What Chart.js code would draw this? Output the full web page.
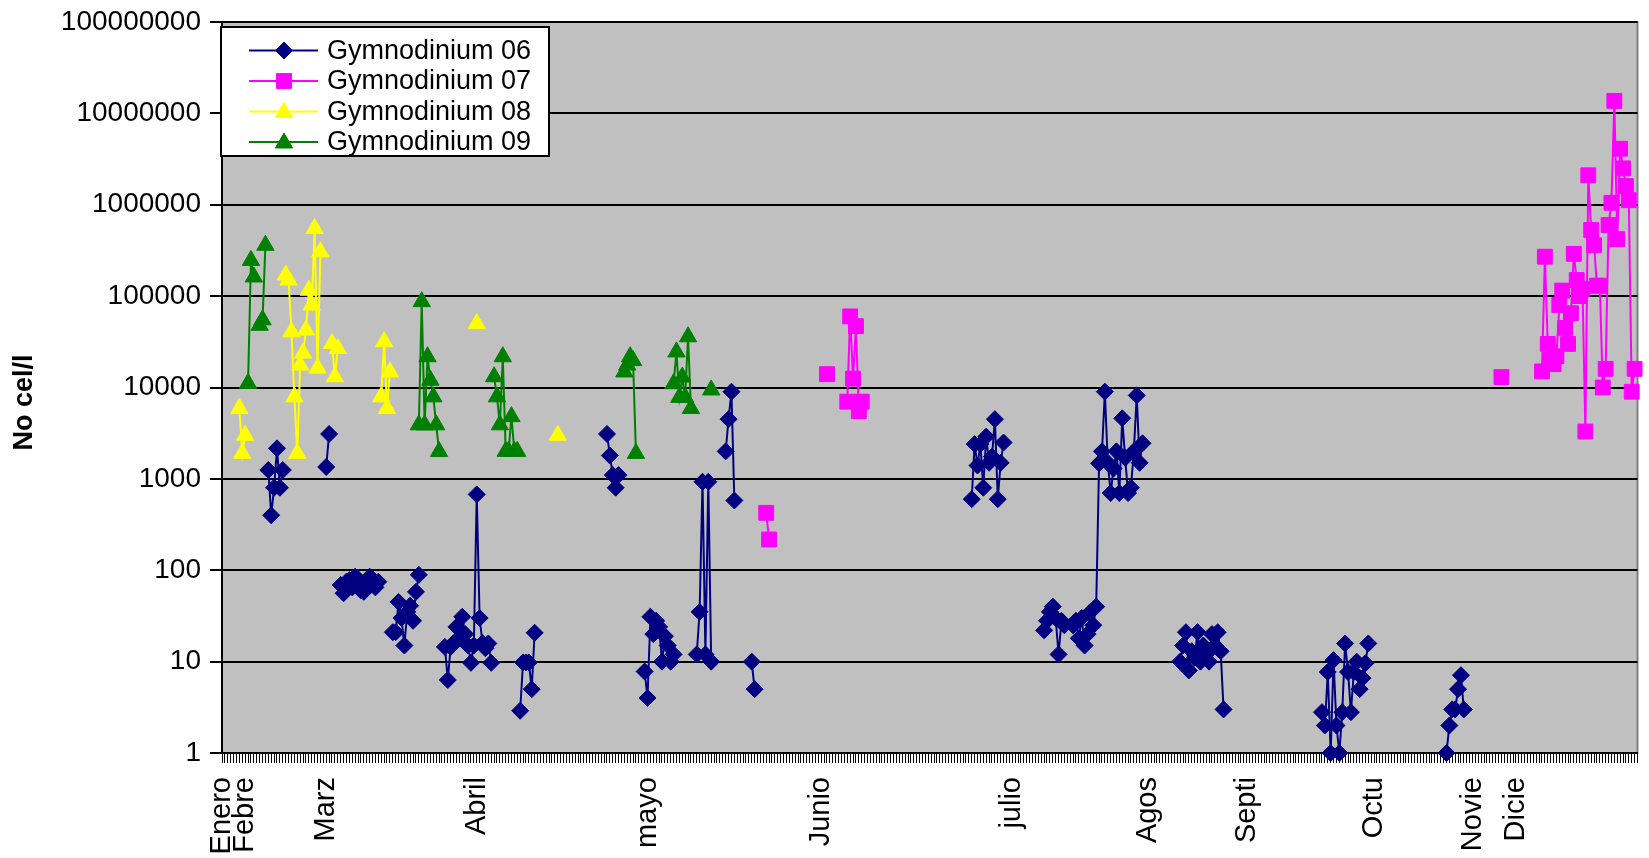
<!DOCTYPE html>
<html><head><meta charset="utf-8">
<script src="https://cdn.jsdelivr.net/npm/chart.js@4.4.1/dist/chart.umd.min.js"></script>
<style>html,body{margin:0;padding:0;background:#fff}</style>
</head><body>
<canvas id="c" width="1649" height="858"></canvas>
<script>
// number of sample rows on the category axis
const N = 490;
// month tick labels: [row index, label]
const monthLabels = [[0,'Enero'],[8,'Febre'],[36,'Marz'],[88,'Abril'],[147,'mayo'],[207,'Junio'],[273,'julio'],[320,'Agos'],[354,'Septi'],[398,'Octu'],[432,'Novie'],[447,'Dicie']];
const yTicks = [1,10,100,1000,10000,100000,1000000,10000000,100000000];
const seriesNames = ['Gymnodinium 06','Gymnodinium 07','Gymnodinium 08','Gymnodinium 09'];

// [row index, cells per litre]
const g06 = [[16,1250],[17,400],[18,800],[19,2160],[20,800],[21,1250],
 [36,1350],[37,3100],
 [41,69],[42,56],[43,75],[44,78],[45,65],[46,85],[47,80],[48,60],[49,58],[50,75],[51,85],[52,80],[53,65],[54,75],
 [59,21],[60,21],[61,45],[62,30],[63,15],[64,35],[65,41],[66,28],[67,58],[68,89],
 [77,14.5],[78,6.3],[79,14.5],[80,16],[81,24],[82,18],[83,31],[84,20],[85,15],[86,9.7],[87,15],[88,676],[89,30],[90,16],[91,14],[92,15.8],[93,9.7],
 [103,2.9],[104,9.8],[105,9.8],[106,9.8],[107,5],[108,20.7],
 [133,3100],[134,1800],[135,1100],[136,800],[137,1100],
 [146,7.8],[147,4],[148,31],[149,20],[150,28],[151,24],[152,10],[153,19],[154,15],[155,10],[156,12],
 [164,12],[165,35],[166,930],[167,12],[168,930],[169,10],
 [174,2000],[175,4500],[176,9000],[177,580],
 [183,10],[184,5],
 [259,600],[260,2400],[261,1400],[262,2400],[263,800],[264,2900],[265,1500],[266,1750],[267,4500],[268,600],[269,1500],[270,2500],
 [284,22],[285,28],[286,35],[287,40],[288,30],[289,12],[290,28],[291,25],
 [294,25],[295,28],[296,18],[297,30],[298,15],[299,20],[300,35],[301,25],[302,40],[303,1480],[304,2000],[305,9000],[306,1500],[307,700],[308,1300],[309,2000],[310,700],[311,4600],[312,1700],[313,700],[314,800],[315,2000],[316,8200],[317,1500],[318,2450],
 [331,10],[332,15],[333,21],[334,8],[335,13],[336,11],[337,21],[338,10],[339,15],[340,12],[341,10],[342,20],[343,15],[344,21],[345,13],[346,3],
 [380,2.8],[381,2],[382,7.7],[383,1],[384,10.4],[385,2],[386,1],[387,2.8],[388,15.8],[389,7.7],[390,2.8],[391,7.7],[392,10],[393,5],[394,6.6],[395,9.6],[396,15.8],
 [423,1],[424,2],[425,3],[426,3],[427,5],[428,7.1],[429,3]];
const g07 = [[188,425],[189,217],
 [209,14000],
 [216,7000],[217,60000],[218,12500],[219,47000],[220,5500],[221,7000],
 [442,13000],
 [456,15000],[457,270000],[458,30000],[459,20000],[460,18000],[461,22000],[462,80000],[463,115000],[464,45000],[465,30000],[466,65000],[467,290000],[468,150000],[469,100000],[470,120000],[471,3300],[472,2100000],[473,530000],[474,360000],[475,130000],[476,130000],[477,10000],[478,16000],[479,600000],[480,1050000],[481,13700000],[482,420000],[483,4100000],[484,2500000],[485,1600000],[486,1120000],[487,9000],[488,16000]];
const g08 = [[6,5900],[7,1900],[8,3000],
 [22,170000],[23,150000],[24,40600],[25,7900],[26,1900],[27,17600],[28,23800],[29,42500],[30,116000],[31,80000],[32,550000],[33,16300],[34,305000],
 [38,30300],[39,13100],[40,26700],
 [55,7900],[56,31700],[57,5900],[58,14800],
 [88,50000],
 [116,3000]];
const g09 = [[9,11100],[10,246000],[11,162000],[13,48000],[14,55000],[15,360000],
 [68,3900],[69,87000],[70,3900],[71,21700],[72,12000],[73,7900],[74,3900],[75,1990],
 [94,13100],[95,7900],[96,3900],[97,21700],[98,2000],[99,2000],[100,4800],[101,2000],[102,2000],
 [139,14800],[140,17600],[141,21700],[142,19700],[143,1900],
 [156,11000],[157,24500],[158,7800],[159,13000],[160,7800],[161,35900],[162,5900],
 [169,9400]];

const categories = Array.from({length:N}, () => '');
monthLabels.forEach(([i,t]) => { categories[i] = t; });
function toData(pairs){ const a = new Array(N).fill(null); pairs.forEach(([i,v]) => { a[i] = v; }); return a; }

const FONT = "'Liberation Sans', Arial, sans-serif";
const styles = [
  {color:'#000080', pointStyle:'rectRot', radius:8.5},
  {color:'#FF00FF', pointStyle:'rect', radius:10.5},
  {color:'#FFFF00', pointStyle:'triangle', radius:10},
  {color:'#008000', pointStyle:'triangle', radius:10}
];
const allSeries = [g06, g07, g08, g09];

const datasets = allSeries.map((s, k) => ({
  label: seriesNames[k],
  data: toData(s),
  borderColor: styles[k].color,
  backgroundColor: styles[k].color,
  pointBackgroundColor: styles[k].color,
  pointBorderColor: styles[k].color,
  pointStyle: styles[k].pointStyle,
  pointRadius: styles[k].radius,
  pointHoverRadius: styles[k].radius,
  pointBorderWidth: 1,
  borderWidth: 2,
  spanGaps: false,
  tension: 0,
  clip: false,
  order: 4 - k
}));

const plotBg = {
  id: 'plotBg',
  beforeDraw(chart) {
    const {ctx, chartArea: a} = chart;
    ctx.save();
    ctx.fillStyle = '#C0C0C0';
    ctx.fillRect(a.left, a.top, a.right - a.left, a.bottom - a.top);
    ctx.strokeStyle = '#808080';
    ctx.lineWidth = 2;
    ctx.strokeRect(a.left, a.top, a.right - a.left, a.bottom - a.top);
    ctx.restore();
  }
};

const boxLegend = {
  id: 'boxLegend',
  afterDraw(chart) {
    const ctx = chart.ctx;
    const bx = 221, by = 27, bw = 328, bh = 129;
    ctx.save();
    ctx.fillStyle = '#fff';
    ctx.fillRect(bx, by, bw, bh);
    ctx.beginPath(); ctx.rect(bx, by, bw, bh); ctx.clip();
    chart.data.datasets.forEach((ds, k) => {
      const cy = 50.5 + k * 30.5;
      ctx.strokeStyle = ds.borderColor;
      ctx.lineWidth = 2;
      ctx.beginPath(); ctx.moveTo(249, cy); ctx.lineTo(318, cy); ctx.stroke();
      ctx.fillStyle = ds.pointBackgroundColor;
      ctx.strokeStyle = ds.pointBorderColor;
      ctx.lineWidth = 1;
      Chart.helpers.drawPoint(ctx, {pointStyle: ds.pointStyle, rotation: 0, borderWidth: 1, radius: ds.pointRadius}, 284, cy + (ds.pointStyle === 'triangle' ? 1 : 0));
      ctx.fillStyle = '#000';
      ctx.font = '27px ' + FONT;
      ctx.textBaseline = 'middle';
      ctx.textAlign = 'left';
      ctx.fillText(ds.label, 327, cy + 1);
    });
    ctx.restore();
    ctx.save();
    ctx.strokeStyle = '#000';
    ctx.lineWidth = 2;
    ctx.strokeRect(bx, by, bw, bh);
    ctx.restore();
  }
};

new Chart(document.getElementById('c'), {
  type: 'line',
  data: { labels: categories, datasets },
  plugins: [plotBg, boxLegend],
  options: {
    responsive: false,
    animation: false,
    events: [],
    layout: { padding: { top: 22, right: 8, left: 0, bottom: 0 } },
    plugins: { legend: { display: false }, tooltip: { enabled: false } },
    scales: {
      x: {
        type: 'category',
        offset: false,
        afterFit(scale) { scale.height = 105; scale.paddingLeft = 0; scale.paddingRight = 0; },
        grid: { display: true, drawOnChartArea: false, drawTicks: true, tickLength: 10, color: '#000', lineWidth: 1 },
        border: { display: true, color: '#000', width: 2 },
        ticks: {
          autoSkip: false, minRotation: 90, maxRotation: 90, padding: 14,
          color: '#000', font: { family: FONT, size: 29 },
          callback(v) { return categories[v]; }
        }
      },
      y: {
        type: 'logarithmic',
        min: 1, max: 100000000,
        afterFit(scale) { scale.width = 222; scale.paddingTop = 0; scale.paddingBottom = 0; },
        afterBuildTicks(scale) { scale.ticks = yTicks.map(v => ({ value: v, major: true })); },
        grid: { color: '#000', lineWidth: 2, tickLength: 12, drawTicks: true },
        border: { display: true, color: '#000', width: 2 },
        ticks: {
          color: '#000', padding: 9,
          font: { family: FONT, size: 28 },
          callback(v) { return String(v); }
        },
        title: { display: true, text: 'No cel/l    ', color: '#000', padding: { top: 8, bottom: 0 },
          font: { family: FONT, size: 27, weight: 'bold' } }
      }
    }
  }
});
</script>
</body></html>
